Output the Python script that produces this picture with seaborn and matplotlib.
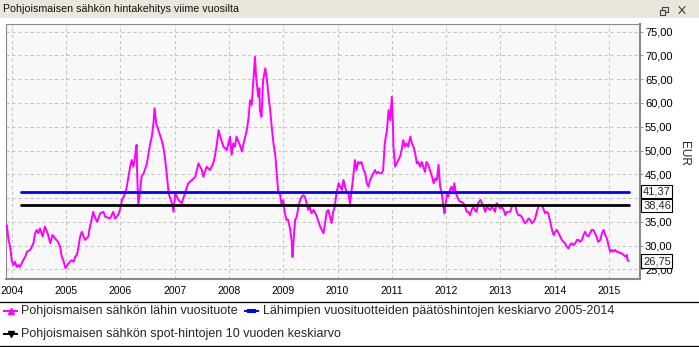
import matplotlib
matplotlib.use("Agg")
import matplotlib.pyplot as plt
from matplotlib.lines import Line2D
from matplotlib.patches import Rectangle
import matplotlib.transforms as mtransforms
import pandas as pd
import seaborn as sns

# --- data -----------------------------------------------------------------
# Nearest-year Nordic power forward, EUR/MWh (decimal year, price)
years = [
    2003.91, 2003.94, 2003.97, 2004.00, 2004.03, 2004.06, 2004.09, 2004.12, 2004.15, 2004.18,
    2004.21, 2004.25, 2004.28, 2004.34, 2004.37, 2004.40, 2004.43, 2004.46, 2004.49, 2004.52,
    2004.57, 2004.61, 2004.66, 2004.71, 2004.75, 2004.80, 2004.85, 2004.89, 2004.92, 2004.95,
    2004.99, 2005.04, 2005.10, 2005.14, 2005.17, 2005.20, 2005.23, 2005.26, 2005.29, 2005.35,
    2005.41, 2005.44, 2005.47, 2005.50, 2005.53, 2005.57, 2005.63, 2005.69, 2005.72, 2005.81,
    2005.87, 2005.90, 2005.96, 2006.00, 2006.03, 2006.09, 2006.12, 2006.15, 2006.18, 2006.21,
    2006.24, 2006.27, 2006.30, 2006.31, 2006.33, 2006.36, 2006.39, 2006.43, 2006.49, 2006.52,
    2006.55, 2006.58, 2006.61, 2006.63, 2006.66, 2006.70, 2006.76, 2006.79, 2006.82, 2006.86,
    2006.89, 2006.95, 2006.98, 2007.01, 2007.07, 2007.13, 2007.19, 2007.25, 2007.32, 2007.38,
    2007.44, 2007.50, 2007.53, 2007.59, 2007.65, 2007.71, 2007.74, 2007.78, 2007.81, 2007.84,
    2007.90, 2007.96, 2008.02, 2008.05, 2008.08, 2008.11, 2008.14, 2008.20, 2008.24, 2008.27,
    2008.30, 2008.33, 2008.36, 2008.39, 2008.42, 2008.45, 2008.48, 2008.50, 2008.54, 2008.56,
    2008.57, 2008.60, 2008.63, 2008.67, 2008.70, 2008.73, 2008.76, 2008.79, 2008.82, 2008.85,
    2008.87, 2008.89, 2008.91, 2008.94, 2008.97, 2009.00, 2009.03, 2009.06, 2009.09, 2009.13,
    2009.16, 2009.17, 2009.20, 2009.22, 2009.25, 2009.28, 2009.31, 2009.34, 2009.37, 2009.40,
    2009.43, 2009.46, 2009.49, 2009.52, 2009.56, 2009.59, 2009.62, 2009.65, 2009.68, 2009.71,
    2009.74, 2009.77, 2009.80, 2009.83, 2009.86, 2009.89, 2009.92, 2009.95, 2009.98, 2010.02,
    2010.05, 2010.08, 2010.11, 2010.14, 2010.17, 2010.20, 2010.23, 2010.26, 2010.29, 2010.32,
    2010.35, 2010.38, 2010.41, 2010.44, 2010.48, 2010.51, 2010.54, 2010.57, 2010.60, 2010.63,
    2010.66, 2010.69, 2010.72, 2010.75, 2010.78, 2010.81, 2010.84, 2010.87, 2010.91, 2010.94,
    2010.97, 2011.00, 2011.02, 2011.03, 2011.06, 2011.09, 2011.12, 2011.15, 2011.18, 2011.21,
    2011.24, 2011.27, 2011.30, 2011.34, 2011.37, 2011.40, 2011.43, 2011.46, 2011.49, 2011.52,
    2011.55, 2011.58, 2011.61, 2011.64, 2011.67, 2011.70, 2011.74, 2011.77, 2011.80, 2011.83,
    2011.86, 2011.89, 2011.92, 2011.95, 2011.97, 2012.00, 2012.02, 2012.04, 2012.07, 2012.10,
    2012.13, 2012.15, 2012.18, 2012.23, 2012.26, 2012.29, 2012.32, 2012.35, 2012.38, 2012.41,
    2012.44, 2012.47, 2012.50, 2012.53, 2012.56, 2012.59, 2012.63, 2012.66, 2012.69, 2012.72,
    2012.75, 2012.78, 2012.81, 2012.84, 2012.87, 2012.90, 2012.93, 2012.96, 2012.99, 2013.02,
    2013.06, 2013.09, 2013.12, 2013.15, 2013.18, 2013.21, 2013.24, 2013.27, 2013.30, 2013.33,
    2013.36, 2013.39, 2013.42, 2013.45, 2013.48, 2013.52, 2013.55, 2013.58, 2013.61, 2013.64,
    2013.67, 2013.70, 2013.73, 2013.76, 2013.79, 2013.82, 2013.85, 2013.88, 2013.91, 2013.95,
    2013.98, 2014.01, 2014.04, 2014.07, 2014.10, 2014.13, 2014.16, 2014.19, 2014.22, 2014.25,
    2014.28, 2014.31, 2014.34, 2014.38, 2014.41, 2014.44, 2014.47, 2014.50, 2014.53, 2014.56,
    2014.59, 2014.62, 2014.65, 2014.68, 2014.71, 2014.74, 2014.77, 2014.80, 2014.84, 2014.87,
    2014.90, 2014.93, 2014.96, 2014.99, 2015.02, 2015.05, 2015.08, 2015.11, 2015.14, 2015.17,
    2015.20, 2015.23, 2015.27, 2015.30, 2015.33, 2015.34, 2015.36,
]
price = [
    34.3, 31.2, 29.8, 26.9, 25.9, 26.6, 25.5, 25.9, 25.5, 26.2,
    26.9, 27.7, 28.7, 29.1, 29.8, 30.5, 32.6, 33.3, 32.6, 33.6,
    31.9, 34.0, 32.6, 30.5, 32.2, 31.5, 30.8, 29.8, 27.7, 26.9,
    25.2, 26.2, 26.9, 26.6, 27.7, 28.0, 29.8, 31.9, 32.9, 31.2,
    31.9, 34.0, 35.4, 37.1, 36.1, 35.0, 36.8, 37.1, 36.1, 35.7,
    37.1, 35.7, 36.4, 37.8, 39.6, 41.0, 42.4, 44.5, 46.6, 48.0,
    46.6, 48.7, 51.2, 45.2, 38.5, 41.0, 44.5, 45.2, 47.3, 49.4,
    51.5, 52.9, 55.7, 58.9, 55.7, 54.3, 52.2, 50.8, 48.7, 44.5,
    41.0, 38.9, 37.1, 41.0, 39.6, 38.9, 41.0, 43.1, 43.8, 44.5,
    47.3, 45.9, 44.5, 46.6, 45.9, 47.3, 48.7, 51.5, 54.3, 52.9,
    50.8, 50.1, 52.9, 49.1, 51.5, 50.8, 52.9, 51.2, 49.8, 51.5,
    52.9, 54.3, 56.8, 60.6, 59.6, 64.8, 69.7, 65.5, 61.3, 63.1,
    58.5, 57.1, 64.8, 67.3, 64.8, 61.3, 58.5, 54.7, 51.5, 49.4,
    46.6, 43.8, 41.0, 41.0, 38.5, 39.6, 36.8, 35.4, 35.4, 33.3,
    30.5, 27.6, 32.6, 35.4, 36.1, 38.2, 39.6, 40.3, 40.6, 40.3,
    38.9, 37.5, 38.2, 36.8, 37.5, 36.8, 36.1, 35.0, 34.0, 33.3,
    32.6, 34.7, 37.1, 37.5, 36.1, 34.7, 37.1, 38.2, 41.0, 43.1,
    42.4, 41.7, 43.8, 42.4, 41.0, 41.0, 38.9, 41.7, 44.5, 48.0,
    45.9, 47.6, 47.3, 47.6, 45.9, 45.2, 43.1, 42.4, 43.8, 44.5,
    45.2, 45.9, 45.2, 45.5, 45.2, 45.2, 45.9, 51.5, 54.3, 58.5,
    56.4, 61.3, 55.7, 50.8, 46.6, 47.3, 48.0, 48.7, 50.1, 52.2,
    50.8, 51.5, 50.8, 52.9, 51.5, 50.8, 49.4, 47.3, 47.6, 46.6,
    47.6, 46.6, 45.5, 47.6, 47.0, 45.9, 44.5, 43.1, 44.1, 43.8,
    47.0, 42.4, 41.0, 38.2, 36.8, 39.6, 41.0, 40.3, 41.7, 42.4,
    41.0, 43.1, 41.0, 39.6, 39.2, 39.2, 38.9, 38.2, 37.1, 37.1,
    36.4, 37.5, 38.2, 37.5, 37.1, 38.9, 39.6, 38.9, 38.2, 37.1,
    38.2, 37.8, 37.5, 38.2, 37.8, 37.1, 38.9, 38.5, 37.8, 38.2,
    37.5, 36.4, 37.1, 37.1, 37.1, 38.2, 38.5, 38.5, 37.1, 36.4,
    36.4, 36.1, 35.4, 34.7, 35.0, 35.7, 35.4, 34.7, 35.0, 35.7,
    37.1, 38.2, 38.5, 38.5, 37.8, 36.8, 37.1, 36.8, 35.4, 33.3,
    32.2, 32.9, 33.3, 32.6, 31.9, 31.2, 30.8, 30.5, 29.8, 29.4,
    30.1, 30.5, 30.1, 30.5, 31.2, 31.2, 30.8, 31.2, 32.2, 32.9,
    32.2, 31.9, 32.6, 33.3, 33.3, 32.6, 31.9, 30.8, 31.2, 32.6,
    33.3, 32.2, 31.5, 30.1, 28.7, 29.1, 28.7, 29.1, 28.7, 28.7,
    28.4, 28.4, 28.0, 27.7, 28.0, 26.9, 26.75,
]

# Reference averages (EUR/MWh) and the period they are drawn over
avg_forward = 41.37   # closing prices of nearest-year forwards, 2005-2014
avg_spot = 38.46      # 10-year average of spot prices
mean_span = [2004.17, 2015.36]

year_ticks = list(range(2004, 2016))
eur_ticks = list(range(25, 80, 5))
eur_hidden = [40]     # tick sits under the boxed average labels

title = "Pohjoismaisen sähkön hintakehitys viime vuosilta"
legend_labels = [
    "Pohjoismaisen sähkön lähin vuosituote",
    "Lähimpien vuosituotteiden päätöshintojen keskiarvo 2005-2014",
    "Pohjoismaisen sähkön spot-hintojen 10 vuoden keskiarvo",
]
c_forward, c_avg_fwd, c_avg_spot = "#FF00FF", "#0000FF", "#000000"

# --- figure -----------------------------------------------------------------
W, H = 699, 347
sns.set_theme(style="white")
plt.rcParams["font.family"] = ["Liberation Sans", "DejaVu Sans"]

fig = plt.figure(figsize=(W / 100, H / 100), dpi=100)
fig.patch.set_facecolor("white")


def fx(px):
    return px / W


def fy(py):
    return 1 - py / H


# window title bar
fig.patches.append(Rectangle((0, fy(18)), 1, fy(0) - fy(18), transform=fig.transFigure,
                             facecolor="#E9E6DC", edgecolor="none", zorder=0))
fig.text(fx(3), fy(9.5), title, ha="left", va="center", fontsize=7.7, color="#111111")
# restore / close glyphs
icon = dict(transform=fig.transFigure, color="#404040", lw=0.8)
fig.lines.append(Line2D([fx(660), fx(665), fx(665), fx(660), fx(660)],
                        [fy(10), fy(10), fy(15), fy(15), fy(10)], **icon))
fig.lines.append(Line2D([fx(662), fx(662), fx(668), fx(668), fx(665)],
                        [fy(10), fy(7), fy(7), fy(12), fy(12)], **icon))
fig.lines.append(Line2D([fx(679), fx(685)], [fy(6.5), fy(13.5)], **icon))
fig.lines.append(Line2D([fx(679), fx(685)], [fy(13.5), fy(6.5)], **icon))

ax_l, ax_r, ax_t, ax_b = 6.3, 639.7, 24.3, 279.3
ax = fig.add_axes([fx(ax_l), fy(ax_b), fx(ax_r) - fx(ax_l), fy(ax_t) - fy(ax_b)])
ax.set_facecolor("#F8F8F8")

df = pd.DataFrame({"vuosi": years, "EUR": price})
sns.lineplot(data=df, x="vuosi", y="EUR", ax=ax, color=c_forward, lw=1.4,
             estimator=None, sort=False, zorder=3)

means = pd.DataFrame({
    "vuosi": mean_span + mean_span,
    "EUR": [avg_forward] * 2 + [avg_spot] * 2,
    "sarja": ["fwd"] * 2 + ["spot"] * 2,
})
sns.lineplot(data=means, x="vuosi", y="EUR", hue="sarja", palette=[c_avg_fwd, c_avg_spot],
             lw=2.0, legend=False, ax=ax, estimator=None, zorder=4)

ymin, ymax = 22.9, 76.56
ax.set_xlim(2003.9, 2015.565)
ax.set_ylim(ymin, ymax)
ax.set_xticks(year_ticks)
ax.set_xticklabels([str(y) for y in year_ticks])
ax.set_yticks(eur_ticks)
ax.set_yticklabels(["" if v in eur_hidden else f"{v:.2f}".replace(".", ",") for v in eur_ticks])
ax.yaxis.tick_right()
ax.set_xlabel("")
ax.set_ylabel("")
ax.grid(True, color="#C4C4C4", linestyle=(0, (2.9, 2.9)), lw=0.75)
ax.tick_params(axis="x", length=0, pad=4.5, labelsize=7.5, colors="#000000")
ax.tick_params(axis="y", which="both", right=True, left=False, length=2.2, width=0.7,
               color="#9A9A9A", pad=1.6, labelsize=8, labelcolor="#000000")
for side, lw in (("left", 0.8), ("top", 0.8), ("right", 1.5), ("bottom", 1.5)):
    ax.spines[side].set_visible(True)
    ax.spines[side].set_color("#8A8A8A")
    ax.spines[side].set_linewidth(lw)

# boxed value labels on the price axis (box: 31 px wide, 13.5 px tall)
px_w = ax_r - ax_l
px_per_eur = (ax_b - ax_t) / (ymax - ymin)
box_h = 13.5 / px_per_eur
tr = mtransforms.blended_transform_factory(ax.transAxes, ax.transData)
for val in (avg_forward, avg_spot, price[-1]):
    ax.add_patch(Rectangle((1 + 1.0 / px_w, val - box_h / 2), 31.0 / px_w, box_h,
                           transform=tr, facecolor="white", edgecolor="black", lw=0.8,
                           clip_on=False, zorder=9))
    ax.text(1 + 3.5 / px_w, val, f"{val:.2f}".replace(".", ","), transform=tr, ha="left",
            va="center", fontsize=8, zorder=10, clip_on=False)

fig.text(fx(684.5), fy(153.7), "EUR", rotation=270, ha="center", va="center", fontsize=8.5)

# legend strip
for yy in (301.5, 345.5):
    fig.lines.append(Line2D([0, 1], [fy(yy), fy(yy)], transform=fig.transFigure,
                            color="black", lw=0.9))


def legend_key(x0, yy, color, marker):
    fig.lines.append(Line2D([fx(x0), fx(x0 + 15)], [fy(yy), fy(yy)], transform=fig.transFigure,
                            color=color, lw=1.4, solid_capstyle="butt"))
    if marker == "bar":
        fig.patches.append(Rectangle((fx(x0 + 3), fy(yy + 1.8)), fx(9), fy(0) - fy(3.6),
                                     transform=fig.transFigure, facecolor=color,
                                     edgecolor="none"))
    else:
        fig.lines.append(Line2D([fx(x0 + 7.5)], [fy(yy)], transform=fig.transFigure,
                                color=color, marker=marker, markersize=5, lw=0))


legend_fs = 9.0
legend_key(3, 311, c_forward, "^")
fig.text(fx(21), fy(311), legend_labels[0], ha="left", va="center", fontsize=legend_fs)
legend_key(244, 311, c_avg_fwd, "bar")
fig.text(fx(263), fy(311), legend_labels[1], ha="left", va="center", fontsize=legend_fs)
legend_key(3, 334, c_avg_spot, "v")
fig.text(fx(21), fy(334), legend_labels[2], ha="left", va="center", fontsize=legend_fs)

fig.savefig("out.png", dpi=100, facecolor=fig.get_facecolor())
